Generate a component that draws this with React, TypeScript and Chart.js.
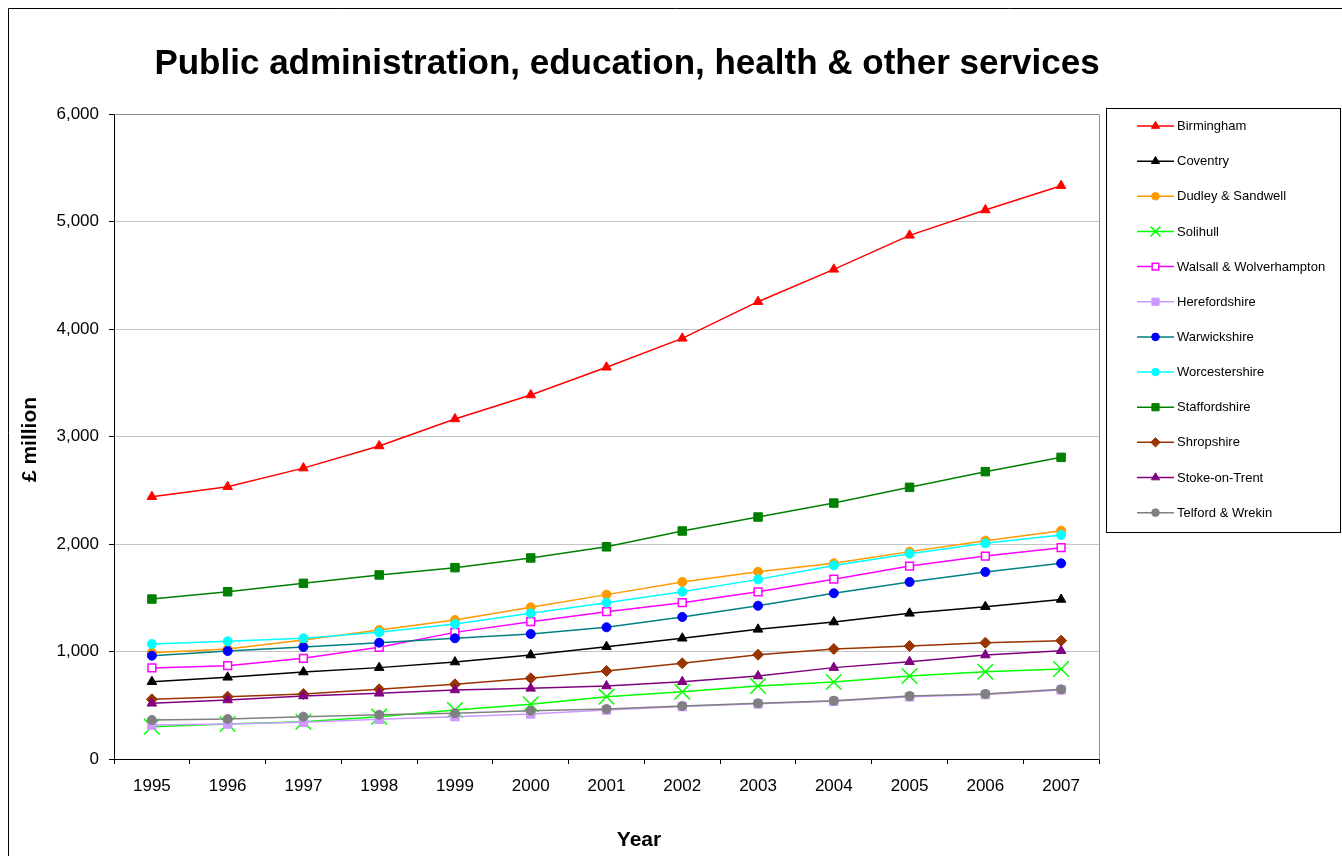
import React, { useEffect, useRef } from 'react';
import { Chart, registerables } from 'chart.js';
import { drawPoint } from 'chart.js/helpers';

Chart.register(...registerables);

const FONT = '"Liberation Sans", Arial, Helvetica, sans-serif';

const years = ['1995', '1996', '1997', '1998', '1999', '2000', '2001', '2002', '2003', '2004', '2005', '2006', '2007'];

const birmingham = [2440, 2533, 2706, 2912, 3163, 3386, 3644, 3913, 4254, 4555, 4871, 5107, 5333];
const coventry = [719, 760, 809, 850, 902, 967, 1045, 1123, 1206, 1274, 1355, 1417, 1484];
const dudleySandwell = [989, 1023, 1107, 1200, 1293, 1411, 1529, 1647, 1742, 1820, 1929, 2031, 2124];
const solihull = [301, 326, 347, 394, 456, 509, 580, 626, 679, 716, 772, 812, 837];
const walsallWolverhampton = [847, 868, 937, 1039, 1178, 1277, 1370, 1454, 1555, 1673, 1795, 1888, 1966];
const herefordshire = [316, 326, 341, 369, 394, 419, 456, 488, 513, 537, 578, 600, 643];
const warwickshire = [961, 1005, 1042, 1082, 1123, 1163, 1225, 1321, 1426, 1542, 1647, 1740, 1820];
const worcestershire = [1070, 1095, 1123, 1178, 1256, 1355, 1454, 1556, 1671, 1801, 1910, 2006, 2084];
const staffordshire = [1488, 1556, 1634, 1712, 1780, 1870, 1974, 2121, 2251, 2381, 2527, 2673, 2806];
const shropshire = [555, 580, 605, 648, 695, 751, 819, 890, 970, 1023, 1051, 1082, 1101];
const stokeOnTrent = [518, 549, 586, 611, 642, 657, 679, 719, 772, 850, 905, 967, 1007];
const telfordWrekin = [363, 372, 394, 412, 425, 449, 465, 493, 518, 542, 586, 605, 648];

const seriesNames = [
  'Birmingham', 'Coventry', 'Dudley & Sandwell', 'Solihull', 'Walsall & Wolverhampton', 'Herefordshire',
  'Warwickshire', 'Worcestershire', 'Staffordshire', 'Shropshire', 'Stoke-on-Trent', 'Telford & Wrekin',
];
const seriesValues = [
  birmingham, coventry, dudleySandwell, solihull, walsallWolverhampton, herefordshire,
  warwickshire, worcestershire, staffordshire, shropshire, stokeOnTrent, telfordWrekin,
];

const yTicks = [0, 1000, 2000, 3000, 4000, 5000, 6000];

const titleText = 'Public administration, education, health & other services';
const yTitle = '£ million';
const xTitle = 'Year';

// styles
const lineColors = ['#ff0000', '#000000', '#ff9900', '#00ff00', '#ff00ff', '#cc99ff', '#008080', '#00ffff', '#008000', '#993300', '#800080', '#808080'];
const markerColors = ['#ff0000', '#000000', '#ff9900', '#00ff00', '#ff00ff', '#cc99ff', '#0000ff', '#00ffff', '#008000', '#993300', '#800080', '#808080'];
const markerFills = ['#ff0000', '#000000', '#ff9900', '#00ff00', '#ffffff', '#cc99ff', '#0000ff', '#00ffff', '#008000', '#993300', '#800080', '#808080'];
const pointStyles = ['triangle', 'triangle', 'circle', 'crossRot', 'rect', 'rect', 'circle', 'circle', 'rect', 'rectRot', 'triangle', 'circle'];
const pointRadii = [5.5, 5.5, 4.5, 11, 5.5, 6, 4.5, 4.5, 6, 5.5, 5.5, 4.5];
const pointBorders = [1, 1, 1, 1.5, 1.5, 1, 1, 1, 1, 1, 1, 1];

const decor = {
  id: 'decor',
  beforeDraw(chart: any) {
    const ctx = chart.ctx;
    ctx.save();
    ctx.fillStyle = '#ffffff';
    ctx.fillRect(0, 0, chart.width, chart.height);
    ctx.restore();
  },
  beforeDatasetsDraw(chart: any) {
    const { ctx, chartArea } = chart;
    ctx.save();
    ctx.strokeStyle = '#909090';
    ctx.lineWidth = 1;
    ctx.beginPath();
    ctx.moveTo(Math.round(chartArea.left) + 0.5, Math.round(chartArea.top) + 0.5);
    ctx.lineTo(Math.round(chartArea.right) + 0.5, Math.round(chartArea.top) + 0.5);
    ctx.lineTo(Math.round(chartArea.right) + 0.5, Math.round(chartArea.bottom) + 0.5);
    ctx.stroke();
    ctx.restore();
  },
  afterDraw(chart: any) {
    const { ctx, chartArea } = chart;
    ctx.save();
    // outer frame (only left and top edges are inside the window)
    ctx.strokeStyle = '#000000';
    ctx.lineWidth = 1;
    ctx.beginPath();
    ctx.moveTo(8.5, chart.height + 2);
    ctx.lineTo(8.5, 8.5);
    ctx.lineTo(chart.width + 2, 8.5);
    ctx.stroke();

    // main title
    ctx.fillStyle = '#000000';
    ctx.textAlign = 'center';
    ctx.textBaseline = 'middle';
    ctx.font = `bold 35px ${FONT}`;
    ctx.fillText(titleText, 627, 64);

    // axis titles
    ctx.font = `bold 21px ${FONT}`;
    ctx.fillText(xTitle, 639, 840);
    ctx.save();
    ctx.translate(30, (chartArea.top + chartArea.bottom) / 2 + 3);
    ctx.rotate(-Math.PI / 2);
    ctx.fillText(yTitle, 0, 0);
    ctx.restore();

    // legend
    const lx = 1106.5, ly = 108.5, lw = 234, lh = 424;
    ctx.strokeStyle = '#000000';
    ctx.lineWidth = 1;
    ctx.strokeRect(lx, ly, lw, lh);
    ctx.font = `13px ${FONT}`;
    ctx.textAlign = 'left';
    ctx.textBaseline = 'middle';
    chart.data.datasets.forEach((ds: any, i: number) => {
      const y = 126 + i * 35.15;
      ctx.strokeStyle = ds.borderColor;
      ctx.lineWidth = 1.5;
      ctx.beginPath();
      ctx.moveTo(1137, y);
      ctx.lineTo(1174, y);
      ctx.stroke();
      ctx.fillStyle = ds.pointBackgroundColor;
      ctx.strokeStyle = ds.pointBorderColor;
      ctx.lineWidth = ds.pointBorderWidth;
      drawPoint(ctx, {
        pointStyle: ds.pointStyle,
        radius: ds.pointStyle === 'crossRot' ? 7 : ds.pointRadius * 0.85,
        rotation: 0,
        borderWidth: ds.pointBorderWidth,
      } as any, 1155.5, y);
      ctx.fillStyle = '#000000';
      ctx.fillText(ds.label, 1177, y + 0.5);
    });
    ctx.restore();
  },
};

export default function App() {
  const ref = useRef<HTMLCanvasElement | null>(null);

  useEffect(() => {
    if (!ref.current) return;
    const n = seriesNames.length;
    const chart = new Chart(ref.current, {
      type: 'line',
      data: {
        labels: years,
        datasets: seriesNames.map((name, i) => ({
          label: name,
          data: seriesValues[i],
          borderColor: lineColors[i],
          borderWidth: 1.5,
          backgroundColor: markerFills[i],
          pointStyle: pointStyles[i] as any,
          pointRadius: pointRadii[i],
          pointHoverRadius: pointRadii[i],
          pointBackgroundColor: markerFills[i],
          pointBorderColor: markerColors[i],
          pointBorderWidth: pointBorders[i],
          tension: 0,
          fill: false,
          clip: false as any,
          order: n - i,
        })),
      },
      options: {
        responsive: false,
        animation: false,
        events: [],
        layout: { padding: { left: 0, top: 114, right: 243, bottom: 0 } },
        plugins: {
          legend: { display: false },
          title: { display: false },
          tooltip: { enabled: false },
        },
        scales: {
          x: {
            type: 'category',
            offset: true,
            afterFit(scale: any) { scale.height = 97; },
            grid: {
              display: true,
              offset: true,
              drawOnChartArea: false,
              drawTicks: true,
              tickLength: 5,
              tickColor: '#000000',
            },
            border: { display: true, color: '#000000', width: 1 },
            ticks: {
              color: '#000000',
              font: { family: FONT, size: 17 },
              padding: 12,
              maxRotation: 0,
              autoSkip: false,
            },
          },
          y: {
            type: 'linear',
            min: yTicks[0],
            max: yTicks[yTicks.length - 1],
            afterFit(scale: any) { scale.width = 114; },
            afterBuildTicks(scale: any) { scale.ticks = yTicks.map((v) => ({ value: v })); },
            grid: {
              color: '#c4c4c4',
              lineWidth: 1,
              drawTicks: true,
              tickLength: 5,
              tickColor: '#000000',
            },
            border: { display: true, color: '#000000', width: 1 },
            ticks: {
              color: '#000000',
              font: { family: FONT, size: 17 },
              padding: 10,
              callback: (v: any) => Number(v).toLocaleString('en-US'),
            },
          },
        },
      },
      plugins: [decor],
    });
    return () => chart.destroy();
  }, []);

  return (
    <div style={{ position: 'fixed', left: 0, top: 0, width: 1342, height: 856, background: '#fff' }}>
      <canvas ref={ref} width={1342} height={856} style={{ width: 1342, height: 856, display: 'block' }} />
    </div>
  );
}
